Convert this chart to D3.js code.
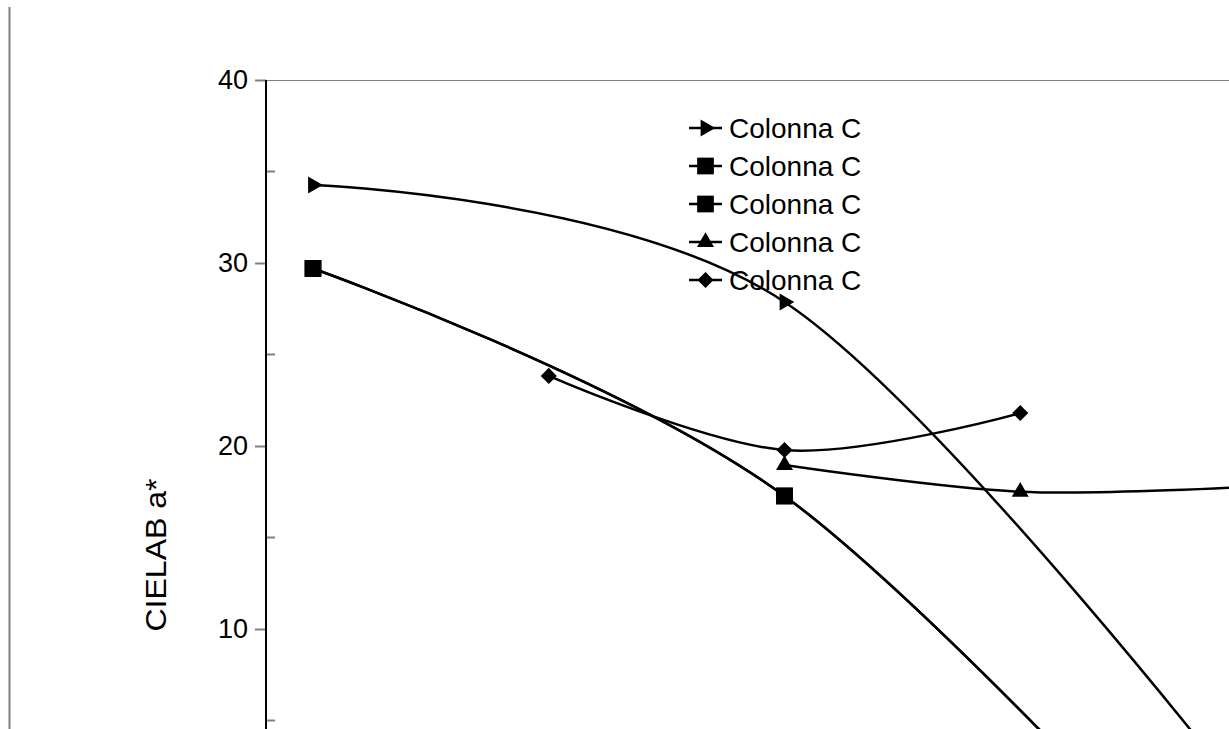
<!DOCTYPE html>
<html>
<head>
<meta charset="utf-8">
<script src="https://cdn.jsdelivr.net/npm/d3@7"></script>
<style>
  body { margin: 0; background: #fff; }
  svg { display: block; font-family: "Liberation Sans", Arial, sans-serif; }
</style>
</head>
<body>
<svg width="1229" height="729"></svg>
<script>
  // x positions (the last one lies past the right edge of the crop)
  const xValues = [1, 2, 3, 4, 5];

  // CIELAB a* per series, null = no point
  const serieRight = [34.26, null, 27.87, null, 0.0];
  const serieSquare1 = [29.7, null, 17.27, null, -8.0];
  const serieSquare2 = [29.7, null, 17.27, null, -8.0];
  const serieUp = [null, null, 18.96, 17.5, 17.8];
  const serieDiamond = [null, 23.83, 19.78, 21.8, null];

  const legendLabels = ["Colonna C", "Colonna C", "Colonna C", "Colonna C", "Colonna C"];
  const yTicksMajor = [10, 20, 30, 40];
  const yTicksMinor = [5, 15, 25, 35];

  const series = [
    { values: serieRight, shape: "right" },
    { values: serieSquare1, shape: "square" },
    { values: serieSquare2, shape: "square" },
    { values: serieUp, shape: "up" },
    { values: serieDiamond, shape: "diamond" }
  ];

  const svg = d3.select("svg");

  const x = d3.scaleLinear().domain([1, 5]).range([313, 1256]);
  const y = d3.scaleLinear().domain([0, 40]).range([812, 80]);

  // outer chart border (left edge only visible)
  svg.append("line")
    .attr("x1", 9.5).attr("x2", 9.5)
    .attr("y1", 7).attr("y2", 729)
    .attr("stroke", "#808080").attr("stroke-width", 2);

  // plot area border, top edge
  svg.append("line")
    .attr("x1", 266).attr("x2", 1229)
    .attr("y1", y(40) + 0.5).attr("y2", y(40) + 0.5)
    .attr("stroke", "#808080").attr("stroke-width", 1);

  // y axis
  const axisG = svg.append("g").attr("transform", "translate(266,0)");
  axisG.call(d3.axisLeft(y).tickValues(yTicksMajor).tickSize(11).tickPadding(7));
  axisG.select(".domain").remove();
  axisG.selectAll(".tick line").attr("stroke", "#808080").attr("stroke-width", 2);
  axisG.selectAll(".tick text")
    .attr("font-size", 27).attr("fill", "#000")
    .attr("font-family", "Liberation Sans, Arial, sans-serif");

  axisG.selectAll(".minor").data(yTicksMinor).enter()
    .append("line")
    .attr("x1", 0).attr("x2", 9)
    .attr("y1", d => y(d)).attr("y2", d => y(d))
    .attr("stroke", "#808080").attr("stroke-width", 2);

  axisG.append("line")
    .attr("x1", 0).attr("x2", 0)
    .attr("y1", y(40)).attr("y2", 729)
    .attr("stroke", "#000").attr("stroke-width", 2);

  // y title
  svg.append("text")
    .attr("transform", "translate(166,555) rotate(-90)")
    .attr("text-anchor", "middle")
    .attr("font-size", 29)
    .attr("textLength", 153)
    .attr("lengthAdjust", "spacingAndGlyphs")
    .text("CIELAB a*");

  function marker(shape) {
    if (shape === "square") return d3.symbol().type(d3.symbolSquare).size(280)();
    if (shape === "diamond") return d3.symbol().type(d3.symbolSquare).size(130)();
    return d3.symbol().type(d3.symbolTriangle).size(125)();
  }
  function rot(shape) {
    if (shape === "right") return 90;
    if (shape === "diamond") return 45;
    return 0;
  }

  const line = d3.line()
    .x(d => x(d[0]))
    .y(d => y(d[1]))
    .curve(d3.curveCardinal.tension(0));

  series.forEach(s => {
    const pts = xValues.map((xv, i) => [xv, s.values[i]]).filter(p => p[1] !== null);
    svg.append("path")
      .datum(pts)
      .attr("d", line)
      .attr("fill", "none")
      .attr("stroke", "#000")
      .attr("stroke-width", 2.5);
    svg.selectAll(null).data(pts).enter()
      .append("path")
      .attr("d", marker(s.shape))
      .attr("transform", d => `translate(${x(d[0])},${y(d[1])}) rotate(${rot(s.shape)})`)
      .attr("fill", "#000");
  });

  // legend
  const legend = svg.append("g").attr("transform", "translate(689,128)");
  series.forEach((s, i) => {
    const g = legend.append("g").attr("transform", `translate(0,${i * 38})`);
    g.append("line").attr("x1", 0).attr("x2", 33).attr("y1", 0).attr("y2", 0)
      .attr("stroke", "#000").attr("stroke-width", 2.5);
    g.append("path").attr("d", marker(s.shape))
      .attr("transform", `translate(16.5,0) rotate(${rot(s.shape)})`)
      .attr("fill", "#000");
    g.append("text").attr("x", 40).attr("dy", "0.35em")
      .attr("font-size", 28).text(legendLabels[i]);
  });
</script>
</body>
</html>
